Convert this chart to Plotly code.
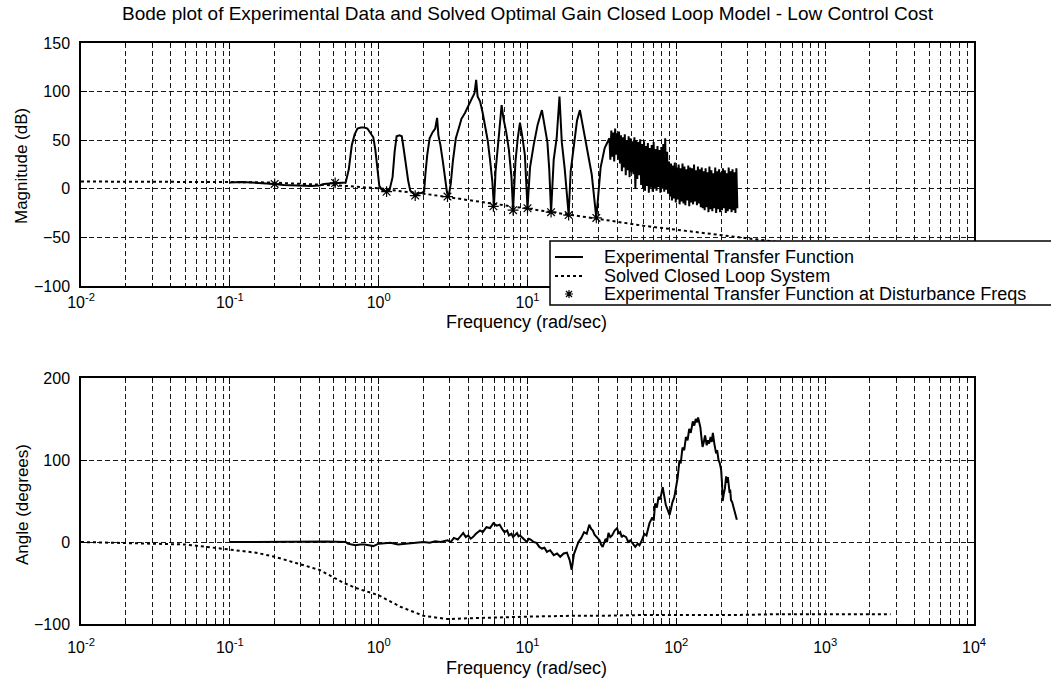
import numpy as np
import plotly.graph_objects as go

# ---------------- data (frequency in rad/sec) ----------------
# Experimental transfer function, magnitude (dB), resonant region
mag_freq = [
    0.1, 0.12, 0.14, 0.17, 0.2, 0.23, 0.26, 0.3, 0.35, 0.4, 0.43, 0.47, 0.51, 0.56, 0.6,
    0.63, 0.66, 0.69, 0.72, 0.76, 0.8, 0.84, 0.88, 0.92, 0.95, 0.98, 1.01, 1.05, 1.1, 1.13,
    1.18, 1.24, 1.28, 1.32, 1.38, 1.43, 1.47, 1.52, 1.58, 1.63, 1.7, 1.76, 1.85, 1.95, 2.02,
    2.06, 2.12, 2.2, 2.3, 2.4, 2.47, 2.52, 2.6, 2.7, 2.8, 2.88, 2.95, 3.05, 3.15, 3.3,
    3.45, 3.6, 3.8, 4.0, 4.2, 4.4, 4.52, 4.62, 4.8, 5.0, 5.2, 5.4, 5.6, 5.8, 5.95,
    6.1, 6.4, 6.7, 6.9, 7.2, 7.5, 7.8, 8.0, 8.3, 8.6, 8.9, 9.2, 9.6, 10.0, 10.4,
    11.0, 11.7, 12.5, 13.0, 13.6, 14.0, 14.4, 15.0, 15.7, 16.4, 17.0, 17.8, 18.9, 19.5, 20.5,
    21.5, 22.5, 23.5, 25.0, 27.0, 29.0, 31.0, 33.0,
]
mag_db = [
    6.5, 7, 6.5, 6, 5, 4, 3.5, 3, 3, 3.5, 5, 5.5, 6, 6, 6.5,
    20, 45, 56, 62, 63, 63, 62, 58, 53, 40, 20, 3, -1, -2, -3,
    -2, 12, 38, 54, 55, 54, 42, 25, 8, -2, -4, -7, -5, -4, -3,
    15, 35, 52, 58, 62, 73, 55, 45, 28, 10, -4, -8, 5, 28, 52,
    62, 72, 78, 86, 92, 98, 112, 95, 90, 78, 64, 50, 30, 8, -18,
    18, 52, 86, 72, 58, 40, 12, -22, 28, 52, 68, 55, 35, -20, 22,
    45, 66, 81, 66, 48, 20, -24, 30, 52, 95, 48, 20, -27, 18, 48,
    70, 81, 66, 45, 15, -30, 22, 42,
]

# Experimental magnitude (dB) above 35 rad/sec, sampled on an even log grid 35.5 .. 257 rad/sec
band_db = [
    52, 30, 60, 33, 58, 28, 62, 35, 57, 30, 59, 26,
    55, 18, 53, 22, 56, 14, 50, 19, 54, 12, 52, 17, 49, 15, 53, 0, 50, 10, 48, 14, 51,
    4, 46, 0, 49, -2, 44, 3, 47, -4, 42, 1, 45, -3, 48, 0, 41, -2, 44, 2, 40, -4, 43,
    0, 46, -3, 52, -1, 38, -5,
    28, -8, 26, -12, 24, -10, 27, -14, 22, -11, 25, -16, 21, -13, 26, -15, 23, -17, 20, -12,
    24, -18, 22, -14, 21, -16, 25, -13, 19, -17, 23, -15, 20, -19,
    22, -20, 18, -22, 21, -19, 17, -24, 23, -21, 19, -23, 16, -20, 22, -25, 18, -21, 20, -24,
    17, -22, 21, -20, 19, -25, 16, -23, 22, -21, 18, -24, 20, -22, 17, -25, 21, -20,
]
band_freq = np.geomspace(35.5, 257, len(band_db))

# Experimental transfer function, phase (degrees)
ph_freq = [
    0.1, 0.2, 0.3, 0.45, 0.6, 0.62, 0.66, 0.7, 0.75, 0.8, 0.86, 0.92, 1.0, 1.1, 1.2,
    1.35, 1.5, 1.7, 2.0, 2.2, 2.4, 2.6, 2.9, 3.05, 3.2, 3.4, 3.7, 3.85, 4.0, 4.15,
    4.3, 4.5, 4.8, 5.0, 5.3, 5.6, 5.9, 6.2, 6.5, 6.8, 7.0, 7.3, 7.5, 7.8, 8.0,
    8.3, 8.5, 8.7, 8.9, 9.4, 9.9, 10.2, 10.5, 11, 11.5, 12, 12.5, 13, 13.5, 14.2,
    15, 15.8, 16.6, 17.5, 18.4, 19.2, 19.8, 20.5, 21.2, 22, 23, 24, 25, 26, 26.8,
    27.5, 28.2, 29, 30.5, 31.2, 32, 33.5, 34.2, 35, 36, 37, 38.5, 40, 41, 42,
    43, 44, 46, 47.5, 49, 51, 53, 55, 56.5, 58, 61, 63, 66, 69, 70.5,
    72, 74, 76, 78, 81, 83, 85, 88, 90, 92, 94, 97, 100, 102, 105,
    107, 110, 113, 116, 119, 122, 125, 129, 132, 135, 138, 140, 143, 145, 148,
    150, 153, 156, 160, 163, 166, 170, 173, 176, 180, 185, 188, 192, 196, 200,
    203, 205, 208, 212, 216, 219, 222, 225, 228, 230, 233, 237, 240, 244, 248,
    252, 255,
]
ph_deg = [
    0, 0.5, 0.5, 0.5, 0, -2, -3, -4, -3, -3, -4, -5, -2, -1, -1,
    -3, -2, -1, 0, -1, 1, 0, 2, 0, 5, 3, 11, 6, 8, 4,
    6, 10, 14, 12, 18, 17, 23, 20, 21, 15, 12, 14, 8, 10, 6,
    9, 11, 7, 8, 4, 0, 4, 3, 0, -1, -6, -8, -7, -12, -10,
    -16, -14, -18, -14, -13, -22, -34, -15, -8, 0, 5, 12, 10, 21, 16,
    14, 9, 6, 2, -3, -6, 4, 0, 11, 6, 8, 14, 17, 10, 12,
    6, 8, 6, 0, 2, -2, -6, -2, -4, 0, 10, 8, 23, 30, 26,
    47, 42, 55, 52, 67, 58, 45, 38, 33, 40, 48, 55, 67, 78, 100,
    96, 115, 112, 128, 124, 138, 133, 147, 142, 150, 146, 152, 145, 140, 125,
    116, 122, 130, 118, 124, 120, 128, 122, 133, 120, 108, 112, 100, 96, 88,
    70, 50, 58, 65, 80, 72, 79, 66, 60, 64, 51, 49, 45, 42, 35,
    31, 27,
]

# Experimental transfer function at the disturbance frequencies
dist_freq = [0.2, 0.51, 1.13, 1.76, 2.9, 5.9, 8.0, 10.0, 14.4, 18.9, 29.0]
dist_db = [5, 6, -3, -7, -8, -18, -22, -20, -24, -27, -30]

# Solved optimal-gain closed loop model
cl_freq = [0.01, 0.03, 0.05, 0.07, 0.1, 0.15, 0.2, 0.3, 0.4, 0.57, 0.7, 1.0, 1.4, 2.0, 2.9,
           4.0, 6.0, 10, 20, 30, 60, 100, 250, 500, 1000, 2750]
cl_db = [7.5, 7.5, 7.4, 7.3, 7.2, 6.8, 6.3, 5.3, 4.5, 3.2, 2.2, 0.5, -2.5, -5, -8.5,
         -11.5, -16, -20, -27, -31, -38, -42, -49, -55, -61, -70]
cl_deg = [0, -1.5, -3, -6, -9, -13, -18, -27, -34, -49, -56, -65, -79, -90, -94,
          -93, -92, -91, -90, -90, -89, -89, -89, -88, -88, -88]

# Axis ticks
decades = [0.01, 0.1, 1, 10, 100, 1000, 10000]
decade_text = ["10<sup>-2</sup>", "10<sup>-1</sup>", "10<sup>0</sup>", "10<sup>1</sup>",
               "10<sup>2</sup>", "10<sup>3</sup>", "10<sup>4</sup>"]
# labels of the upper axes sit under the legend from 10^2 onwards
decade_text_top = decade_text[:4] + ["", "", ""]
minor_vals = [k * d for d in decades[:-1] for k in range(2, 10)]

# ---------------- layout helpers ----------------
W, H = 1051, 683
FONT = "Liberation Sans, Arial, Helvetica, sans-serif"


def px(x):
    return x / W


def py(y):
    return 1 - y / H


PLOT_L, PLOT_R = 81, 974
TOP_T, TOP_B = 43, 286
BOT_T, BOT_B = 378, 624

fig = go.Figure()

fig.add_trace(go.Scatter(x=list(mag_freq) + list(band_freq), y=mag_db + band_db, mode="lines",
                         line=dict(color="black", width=2),
                         name="Experimental Transfer Function", xaxis="x", yaxis="y"))
fig.add_trace(go.Scatter(x=cl_freq, y=cl_db, mode="lines",
                         line=dict(color="black", width=2, dash="dot"),
                         name="Solved Closed Loop System", xaxis="x", yaxis="y"))
fig.add_trace(go.Scatter(x=dist_freq, y=dist_db, mode="markers",
                         marker=dict(symbol="asterisk-open", size=9, color="black",
                                     line=dict(color="black", width=1.2)),
                         name="Experimental Transfer Function at Disturbance Freqs",
                         xaxis="x", yaxis="y"))

fig.add_trace(go.Scatter(x=ph_freq, y=ph_deg, mode="lines",
                         line=dict(color="black", width=2),
                         name="Experimental phase", xaxis="x2", yaxis="y2"))
fig.add_trace(go.Scatter(x=cl_freq, y=cl_deg, mode="lines",
                         line=dict(color="black", width=2, dash="dot"),
                         name="Closed loop phase", xaxis="x2", yaxis="y2"))

GRID = dict(showgrid=True, gridcolor="rgba(0,0,0,0.9)", gridwidth=1, griddash="5px,3px")
AX = dict(showline=True, linecolor="black", linewidth=1.5, mirror="ticks",
          ticks="inside", ticklen=6, tickcolor="black", tickwidth=1,
          tickfont=dict(family=FONT, size=16, color="black"),
          zeroline=False, fixedrange=True, **GRID)


def xaxis(anchor, labels, standoff):
    return dict(type="log", range=[-2, 4], domain=[px(PLOT_L), px(PLOT_R)], anchor=anchor,
                tickmode="array", tickvals=decades, ticktext=labels,
                minor=dict(tickmode="array", tickvals=minor_vals, ticks="inside", ticklen=3,
                           tickcolor="black", **GRID),
                ticklabelstandoff=standoff, **AX)


fig.update_layout(
    width=W, height=H,
    margin=dict(l=0, r=0, t=0, b=0, autoexpand=False),
    paper_bgcolor="white", plot_bgcolor="white",
    showlegend=False,
    font=dict(family=FONT, size=16, color="black"),
    xaxis=xaxis("y", decade_text_top, 1),
    yaxis=dict(range=[-100, 150], tick0=0, dtick=50, domain=[py(TOP_B), py(TOP_T)],
               anchor="x", ticklabelstandoff=6, **AX),
    xaxis2=xaxis("y2", decade_text, 8),
    yaxis2=dict(range=[-100, 200], tick0=0, dtick=100, domain=[py(BOT_B), py(BOT_T)],
                anchor="x2", ticklabelstandoff=6, **AX),
)

annotations = [
    dict(text="Bode plot of Experimental Data and Solved Optimal Gain Closed Loop Model - Low Control Cost",
         x=px(528), y=py(13), font=dict(size=19)),
    dict(text="Magnitude (dB)", x=px(22), y=py(166), textangle=-90, font=dict(size=17)),
    dict(text="Angle (degrees)", x=px(22), y=py(505), textangle=-90, font=dict(size=17)),
    dict(text="Frequency (rad/sec)", x=px(526), y=py(322), font=dict(size=18)),
    dict(text="Frequency (rad/sec)", x=px(526), y=py(668), font=dict(size=18)),
]

# Legend box drawn over the magnitude axes
LEG_L, LEG_T, LEG_B = 550, 241, 305
entries_y = [257, 276, 294]
legend_text = ["Experimental Transfer Function", "Solved Closed Loop System",
               "Experimental Transfer Function at Disturbance Freqs"]
for yy, txt in zip(entries_y, legend_text):
    annotations.append(dict(text=txt, x=px(602), y=py(yy), xanchor="left", font=dict(size=18)))

for a in annotations:
    a.setdefault("xref", "paper")
    a.setdefault("yref", "paper")
    a.setdefault("showarrow", False)
    a.setdefault("xanchor", "center")
    a.setdefault("yanchor", "middle")

shapes = [
    dict(type="rect", xref="paper", yref="paper", x0=px(LEG_L), x1=px(W + 20),
         y0=py(LEG_B), y1=py(LEG_T), fillcolor="white", line=dict(color="black", width=1.5),
         layer="above"),
    dict(type="line", xref="paper", yref="paper", x0=px(555), x1=px(583),
         y0=py(entries_y[0]), y1=py(entries_y[0]), line=dict(color="black", width=2),
         layer="above"),
    dict(type="line", xref="paper", yref="paper", x0=px(555), x1=px(583),
         y0=py(entries_y[1]), y1=py(entries_y[1]), line=dict(color="black", width=2, dash="dot"),
         layer="above"),
]
sx, sy, r = 569, entries_y[2], 4
star = (f"M{px(sx - r)},{py(sy)} L{px(sx + r)},{py(sy)} "
        f"M{px(sx)},{py(sy - r)} L{px(sx)},{py(sy + r)} "
        f"M{px(sx - 3)},{py(sy - 3)} L{px(sx + 3)},{py(sy + 3)} "
        f"M{px(sx - 3)},{py(sy + 3)} L{px(sx + 3)},{py(sy - 3)}")
shapes.append(dict(type="path", xref="paper", yref="paper", path=star,
                   line=dict(color="black", width=1.2), layer="above"))

fig.update_layout(annotations=annotations, shapes=shapes)

fig.write_html("out.html")
